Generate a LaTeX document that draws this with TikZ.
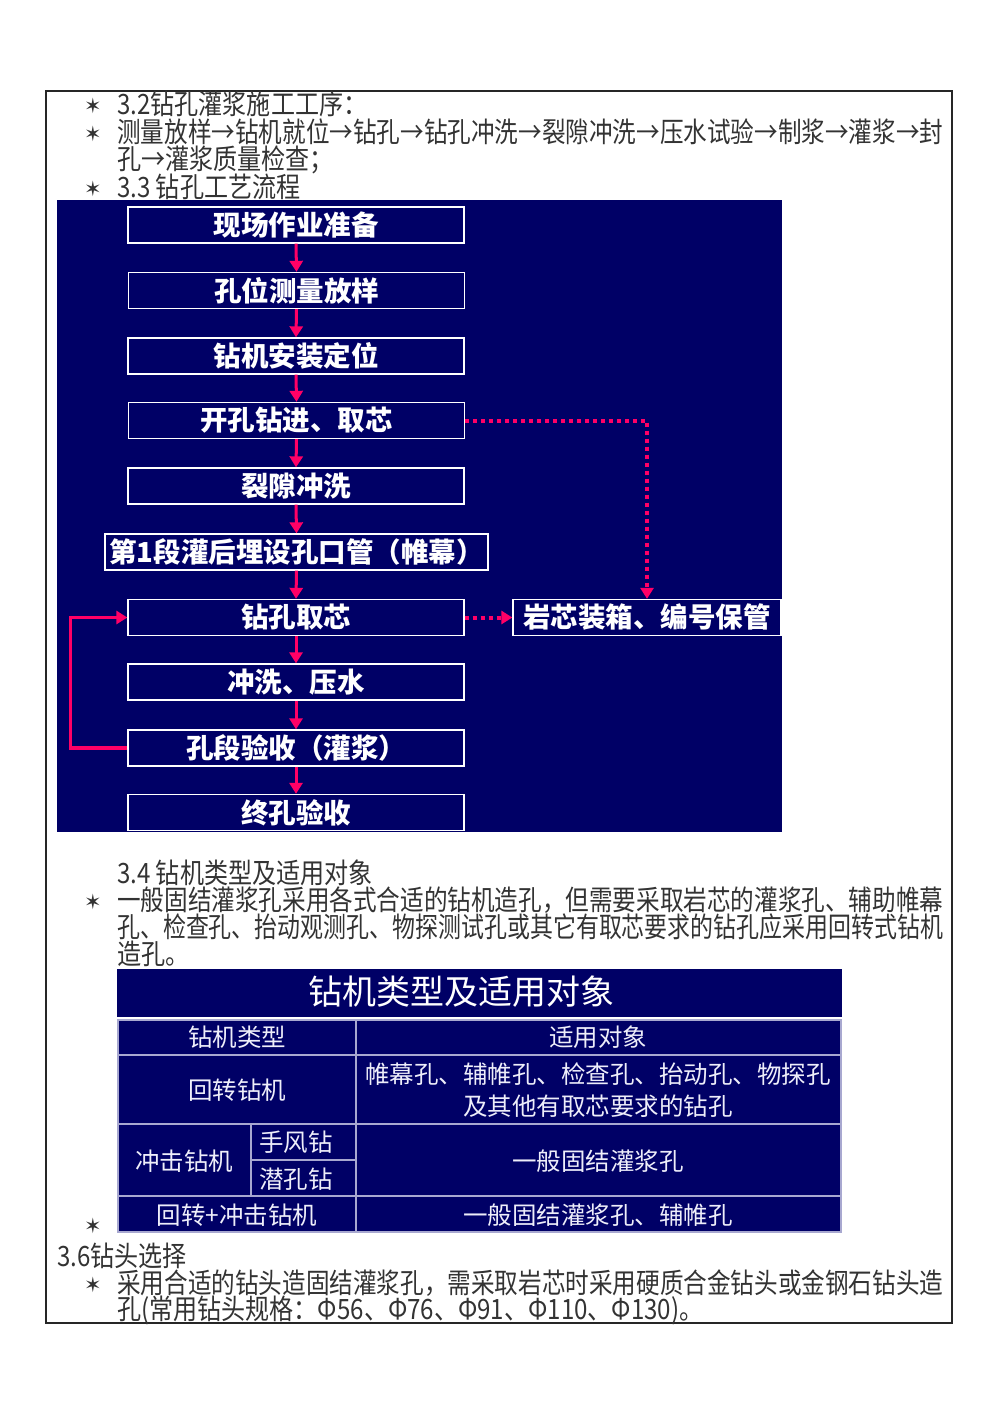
\documentclass[tikz,border=0pt]{standalone}
\usepackage{graphicx}
\usepackage{fontspec}
\setmainfont{Noto Sans CJK SC}
\newfontfamily\bodyf{Noto Sans CJK SC}[FakeStretch=0.86]
\newfontfamily\boxf{Noto Sans CJK SC}
\newfontfamily\symf{DejaVu Sans}
\usetikzlibrary{arrows.meta}
\definecolor{navy}{HTML}{000066}
\definecolor{pinkc}{HTML}{FF0066}
\definecolor{bodyc}{HTML}{333333}
\definecolor{gridc}{HTML}{A8A8D0}
\definecolor{cellc}{HTML}{EEEEFA}
\newcommand{\jl}[1]{\resizebox{826pt}{\height}{#1}}
\tikzset{
  bodytxt/.style={anchor=west, inner sep=0pt, text=bodyc, font=\bodyf\fontsize{28}{28}\selectfont},
  starmark/.style={inner sep=0pt, text=bodyc, font=\symf\fontsize{21}{21}\selectfont},
  fbox/.style={draw=white, line width=1.3pt, fill=navy, text=white, inner sep=0pt,
    font=\boxf\bfseries\fontsize{27.5}{27.5}\selectfont, minimum height=36pt, minimum width=336pt},
  parrow/.style={draw=pinkc, line width=3pt, -{Triangle[width=13pt,length=11pt]}},
  pdot/.style={draw=pinkc, line width=4pt, dash pattern=on 4pt off 4pt, -{Triangle[width=13pt,length=11pt]}},
  gridl/.style={draw=gridc, line width=2.5pt},
  celltxt/.style={inner sep=0pt, text=cellc, font=\boxf\fontsize{24.5}{32}\selectfont, align=center},
}
\begin{document}
\begin{tikzpicture}[x=1pt,y=-1pt]
\useasboundingbox[fill=white] (0,0) rectangle (1000,1415);
% frame
\draw[line width=1.8pt, color=black!85] (46,91) rectangle (952,1323);
% stars
\foreach \yy/\nm in {106/s1,134/s2,189/s3,902/s4,1226/s5,1285/s6}
  \node[starmark] (\nm) at (93,\yy) {✶};
% top text
\node[bodytxt] (t1) at (117,104) {3.2钻孔灌浆施工工序：};
\node[bodytxt] (t2) at (117,132) {\jl{测量放样→钻机就位→钻孔→钻孔冲洗→裂隙冲洗→压水试验→制浆→灌浆→封}};
\node[bodytxt] (t3) at (117,160) {孔→灌浆质量检查；};
\node[bodytxt] (t4) at (117,187) {3.3 钻孔工艺流程};
% flow panel
\fill[navy] (57,200) rectangle (782,832);
\node[fbox] (b1) at (296,225) {现场作业准备};
\node[fbox] (b2) at (296.5,290.5) {孔位测量放样};
\node[fbox] (b3) at (296,356) {钻机安装定位};
\node[fbox] (b4) at (296.5,420.5) {开孔钻进、取芯};
\node[fbox] (b5) at (296,486) {裂隙冲洗};
\node[fbox, minimum width=383pt] (b6) at (296.5,552) {第1段灌后埋设孔口管（帷幕）};
\node[fbox] (b7) at (296,617.5) {钻孔取芯};
\node[fbox, minimum width=268pt] (r1) at (647,617.5) {岩芯装箱、编号保管};
\node[fbox] (b8) at (296,682) {冲洗、压水};
\node[fbox] (b9) at (296,748) {孔段验收（灌浆）};
\node[fbox] (b10) at (296,812.5) {终孔验收};
\draw[parrow] (b1.south) -- (b2.north);
\draw[parrow] (b2.south) -- (b3.north);
\draw[parrow] (b3.south) -- (b4.north);
\draw[parrow] (b4.south) -- (b5.north);
\draw[parrow] (b5.south) -- (b6.north);
\draw[parrow] (b6.south) -- (b7.north);
\draw[parrow] (b7.south) -- (b8.north);
\draw[parrow] (b8.south) -- (b9.north);
\draw[parrow] (b9.south) -- (b10.north);
\draw[parrow, line width=3.5pt] (b9.west) -- ++(-57,0) |- (b7.west);
\draw[pdot] (b4.east) -| (r1.north);
\draw[pdot] (b7.east) -- (r1.west);
% section 3.4
\node[bodytxt] (t5) at (117,873) {3.4 钻机类型及适用对象};
\node[bodytxt] (t6) at (117,900) {\jl{一般固结灌浆孔采用各式合适的钻机造孔，但需要采取岩芯的灌浆孔、辅助帷幕}};
\node[bodytxt] (t7) at (117,927) {\jl{孔、检查孔、抬动观测孔、物探测试孔或其它有取芯要求的钻孔应采用回转式钻机}};
\node[bodytxt] (t8) at (117,954) {造孔。};
% table
\fill[navy] (117,969) rectangle (842,1017);
\node[inner sep=0pt, text=white, font=\boxf\fontsize{34}{34}\selectfont] (tt) at (461,992) {钻机类型及适用对象};
\fill[navy] (118,1020) rectangle (841,1232);
\draw[gridl] (118,1020) rectangle (841,1232);
\draw[gridl] (118,1055) -- (841,1055);
\draw[gridl] (118,1124) -- (841,1124);
\draw[gridl] (118,1196) -- (841,1196);
\draw[gridl] (251,1160) -- (356,1160);
\draw[gridl] (356,1020) -- (356,1232);
\draw[gridl] (251,1124) -- (251,1196);
\node[celltxt] (c11) at (237,1037) {钻机类型};
\node[celltxt] (c12) at (598,1037) {适用对象};
\node[celltxt] (c21) at (237,1090) {回转钻机};
\node[celltxt] (c22a) at (598,1074) {帷幕孔、辅帷孔、检查孔、抬动孔、物探孔};
\node[celltxt] (c22b) at (598,1106) {及其他有取芯要求的钻孔};
\node[celltxt] (c31) at (184,1161) {冲击钻机};
\node[celltxt] (c32) at (296,1142) {手风钻};
\node[celltxt] (c33) at (296,1179) {潜孔钻};
\node[celltxt] (c34) at (598,1161) {一般固结灌浆孔};
\node[celltxt] (c41) at (237,1215) {回转+冲击钻机};
\node[celltxt] (c42) at (598,1215) {一般固结灌浆孔、辅帷孔};
% section 3.6
\node[bodytxt] (t9) at (57,1256) {3.6钻头选择};
\node[bodytxt] (t10) at (117,1283) {\jl{采用合适的钻头造固结灌浆孔，需采取岩芯时采用硬质合金钻头或金钢石钻头造}};
\node[bodytxt] (t11) at (117,1310) {孔(常用钻头规格：Φ56、Φ76、Φ91、Φ110、Φ130)。};
\end{tikzpicture}
\end{document}
